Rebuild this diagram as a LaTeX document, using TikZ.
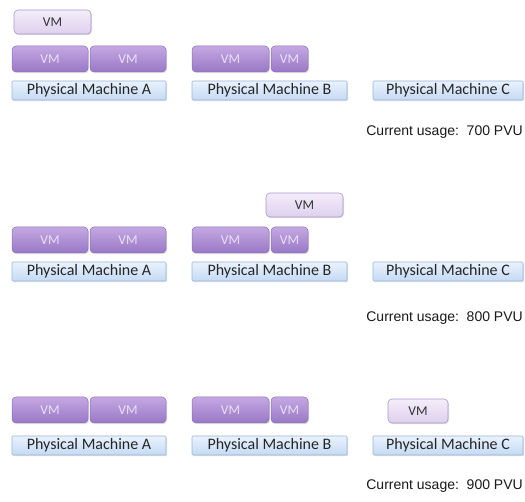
\documentclass[tikz,border=0pt]{standalone}
\usepackage{fontspec}
\setmainfont{Carlito}
\newfontfamily\arialf{Liberation Sans}
\usetikzlibrary{shadows}
\definecolor{dvmtop}{HTML}{C4A8E2}
\definecolor{dvmbot}{HTML}{9878C6}
\definecolor{dvmline}{HTML}{8C70B8}
\definecolor{dvmtext}{HTML}{EAE0F6}
\definecolor{lvmtop}{HTML}{F4EEFA}
\definecolor{lvmbot}{HTML}{DDD0EE}
\definecolor{lvmline}{HTML}{A898C8}
\definecolor{pmtop}{HTML}{EAF2FD}
\definecolor{pmbot}{HTML}{C4DAF4}
\definecolor{pmline}{HTML}{98B6DC}
\tikzset{
  base/.style={anchor=north west, inner sep=0pt, outer sep=0pt,
    drop shadow={opacity=0.25, shadow xshift=1pt, shadow yshift=-1.2pt}},
  dvm/.style={base, rounded corners=4pt, draw=dvmline, line width=0.5pt,
    top color=dvmtop, bottom color=dvmbot, text=dvmtext,
    font=\fontsize{13.5}{13.5}\selectfont, minimum height=26pt},
  lvm/.style={base, rounded corners=4pt, draw=lvmline, line width=0.6pt,
    top color=lvmtop, bottom color=lvmbot, text=black!80,
    font=\fontsize{13.5}{13.5}\selectfont, minimum height=24pt},
  pm/.style={base, rounded corners=1pt, draw=pmline, line width=0.6pt,
    top color=pmtop, bottom color=pmbot, text=black!85,
    font=\fontsize{16}{16}\selectfont, minimum height=19pt},
  usage/.style={anchor=east, inner sep=0pt, text=black!90,
    font=\arialf\fontsize{14}{14}\selectfont}
}
\begin{document}
\begin{tikzpicture}[x=1pt,y=-1pt]
\useasboundingbox (0,0) rectangle (525,502);
% ---------- Section 1
\node[lvm, minimum width=77pt] (m1) at (14,10) {VM};
\node[dvm, minimum width=76pt] (a11) at (12,46) {VM};
\node[dvm, minimum width=76pt] (a12) at (90,46) {VM};
\node[pm, minimum width=154pt] (pa1) at (12,81) {Physical Machine A};
\node[dvm, minimum width=77pt] (b11) at (192,46) {VM};
\node[dvm, minimum width=37pt] (b12) at (271,46) {VM};
\node[pm, minimum width=155pt] (pb1) at (192,81) {Physical Machine B};
\node[pm, minimum width=150pt] (pc1) at (373,81) {Physical Machine C};
\node[usage] (u1) at (523,132) {Current usage:\ \ 700 PVU};
% ---------- Section 2
\node[dvm, minimum width=76pt] (a21) at (12,227) {VM};
\node[dvm, minimum width=76pt] (a22) at (90,227) {VM};
\node[pm, minimum width=154pt] (pa2) at (12,262) {Physical Machine A};
\node[lvm, minimum width=77pt] (m2) at (266,193) {VM};
\node[dvm, minimum width=77pt] (b21) at (192,227) {VM};
\node[dvm, minimum width=37pt] (b22) at (271,227) {VM};
\node[pm, minimum width=155pt] (pb2) at (192,262) {Physical Machine B};
\node[pm, minimum width=150pt] (pc2) at (373,262) {Physical Machine C};
\node[usage] (u2) at (523,318) {Current usage:\ \ 800 PVU};
% ---------- Section 3
\node[dvm, minimum width=76pt] (a31) at (12,397) {VM};
\node[dvm, minimum width=76pt] (a32) at (90,397) {VM};
\node[pm, minimum width=154pt] (pa3) at (12,436) {Physical Machine A};
\node[dvm, minimum width=77pt] (b31) at (192,397) {VM};
\node[dvm, minimum width=37pt] (b32) at (271,397) {VM};
\node[pm, minimum width=155pt] (pb3) at (192,436) {Physical Machine B};
\node[lvm, minimum width=60pt] (m3) at (388,399) {VM};
\node[pm, minimum width=150pt] (pc3) at (373,436) {Physical Machine C};
\node[usage] (u3) at (523,486) {Current usage:\ \ 900 PVU};
\end{tikzpicture}
\end{document}
